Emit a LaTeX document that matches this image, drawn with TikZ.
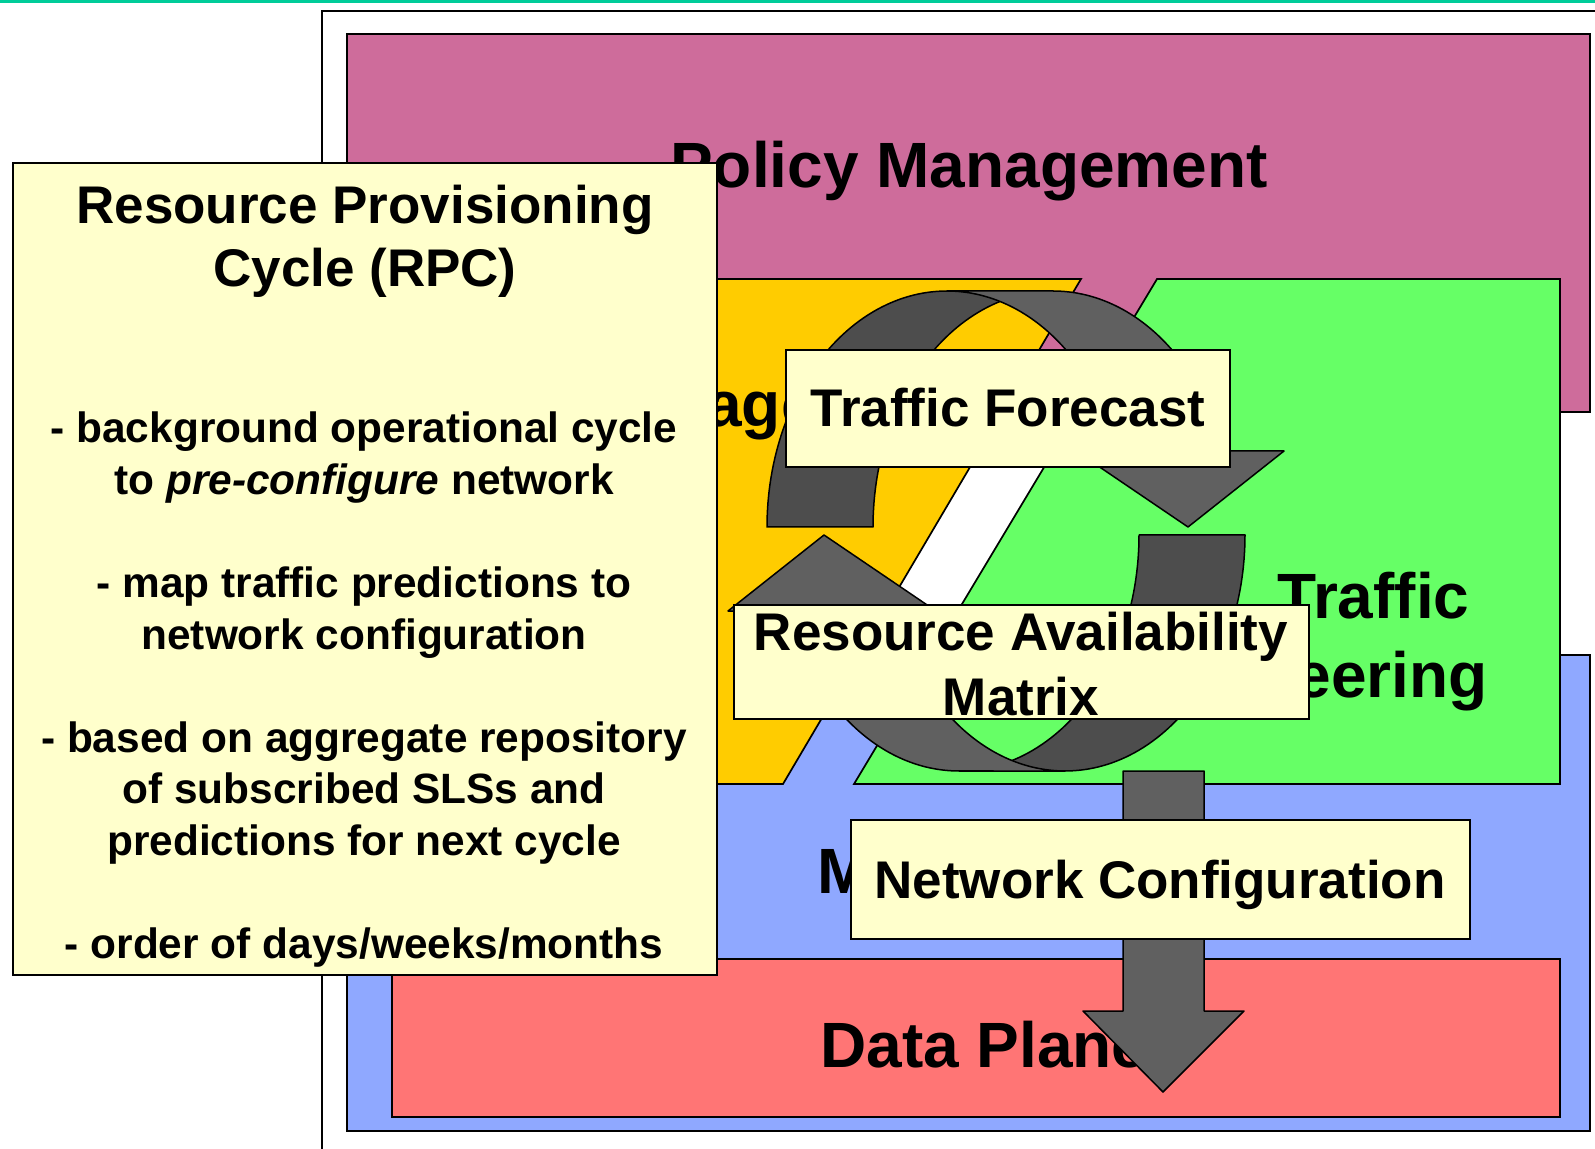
\documentclass[tikz,border=0pt]{standalone}
\usepackage{fontspec}
\setmainfont{Liberation Sans}
\definecolor{cTeal}{RGB}{0,204,153}
\definecolor{cPink}{RGB}{206,108,155}
\definecolor{cOrange}{RGB}{255,204,0}
\definecolor{cGreen}{RGB}{102,255,102}
\definecolor{cBlue}{RGB}{143,168,255}
\definecolor{cRed}{RGB}{255,117,117}
\definecolor{cYel}{RGB}{255,255,204}
\definecolor{gDark}{RGB}{77,77,77}
\definecolor{gLight}{RGB}{96,96,96}
\begin{document}
\begin{tikzpicture}[x=0.5pt,y=-0.5pt,
  box/.style={draw=black,line width=0.85pt},
  lbl/.style={inner sep=0pt,anchor=base,font=\bfseries\fontsize{26.5pt}{30pt}\selectfont},
  big/.style={inner sep=0pt,anchor=base,font=\bfseries\fontsize{32pt}{36pt}\selectfont},
  body/.style={inner sep=0pt,anchor=base,font=\bfseries\fontsize{21.2pt}{25pt}\selectfont},
  arrowD/.style={fill=gDark,draw=black,line width=0.75pt,line join=round},
  arrowL/.style={fill=gLight,draw=black,line width=0.75pt,line join=round}]
\useasboundingbox (0,0) rectangle (1595,1149);
\fill[white] (0,0) rectangle (1595,1149);
% top rule and frame
\fill[cTeal] (0,0) rectangle (1595,3);
\draw[line width=0.85pt] (322,1152) -- (322,11) -- (1600,11);
% layers
\filldraw[box,fill=cPink] (347,34) rectangle (1590,412);
\filldraw[box,fill=cBlue] (347,655) rectangle (1590,1131);
\filldraw[box,fill=cRed] (392,959) rectangle (1560,1117);
\filldraw[box,fill=cOrange] (392,279) -- (1081,279) -- (783,784) -- (392,784) -- cycle;
\filldraw[box,fill=cGreen] (1157,279) -- (1560,279) -- (1560,784) -- (854,784) -- cycle;
% layer labels
\node[big] (pm) at (969,188) {Policy Management};
\node[big,anchor=base west] (mg) at (578,427) {Management};
\node[big,anchor=base west] (te1) at (1277,618) {Traffic};
\node[big,anchor=base east] (te2) at (1488,697) {Engineering};
\node[big,anchor=base west] (mo) at (817,893) {Monitoring};
\node[big,anchor=base west] (dp) at (820,1067) {Data Plane};
% cycle arrows (upper)
\filldraw[arrowD] (767,527) -- plot[domain=180:90,samples=60] ({947+180*cos(\x)},{527-236*sin(\x)})
  -- plot[domain=90:180,samples=60] ({1053+180*cos(\x)},{527-236*sin(\x)}) -- cycle;
\filldraw[arrowL] (947,291) -- plot[domain=90:18.8,samples=60] ({947+180*cos(\x)},{527-236*sin(\x)})
  -- (1076,451) -- (1188,527) -- (1284,451)
  -- plot[domain=18.8:90,samples=60] ({1053+180*cos(\x)},{527-236*sin(\x)}) -- cycle;
% cycle arrows (lower)
\filldraw[arrowD] (1245,535) -- plot[domain=0:-90,samples=60] ({1065+180*cos(\x)},{535-236*sin(\x)})
  -- plot[domain=-90:0,samples=60] ({959+180*cos(\x)},{535-236*sin(\x)}) -- cycle;
\filldraw[arrowL] (1065,771) -- plot[domain=270:198.8,samples=60] ({1065+180*cos(\x)},{535-236*sin(\x)})
  -- (936,611) -- (824,535) -- (728,611)
  -- plot[domain=198.8:270,samples=60] ({959+180*cos(\x)},{535-236*sin(\x)}) -- cycle;
% network configuration arrow
\filldraw[arrowL] (1123,771) -- (1204,771) -- (1204,1011) -- (1244,1011) -- (1163,1092)
  -- (1083,1011) -- (1123,1011) -- cycle;
% labelled boxes
\filldraw[box,fill=cYel] (786,350) rectangle (1230,467);
\node[lbl] (tf) at (1008,427) {Traffic Forecast};
\filldraw[box,fill=cYel] (734,605) rectangle (1309,719);
\node[lbl] (ram1) at (1021,650) {Resource Availability};
\node[lbl] (ram2) at (1021,715) {Matrix};
\filldraw[box,fill=cYel] (851,820) rectangle (1470,939);
\node[lbl] (nc) at (1160,898) {Network Configuration};
% RPC box
\filldraw[box,fill=cYel] (13,163) rectangle (717,975);
\node[lbl] (t1) at (365,224) {Resource Provisioning};
\node[lbl] (t2) at (365,287) {Cycle (RPC)};
\node[body] (b1) at (364,443) {- background operational cycle};
\node[body] (b2) at (364,494.5) {to \textit{pre-configure} network};
\node[body] (b3) at (364,597.5) {- map traffic predictions to};
\node[body] (b4) at (364,649) {network configuration};
\node[body] (b5) at (364,752) {- based on aggregate repository};
\node[body] (b6) at (364,803.5) {of subscribed SLSs and};
\node[body] (b7) at (364,855) {predictions for next cycle};
\node[body] (b8) at (364,958) {- order of days/weeks/months};
\end{tikzpicture}
\end{document}
